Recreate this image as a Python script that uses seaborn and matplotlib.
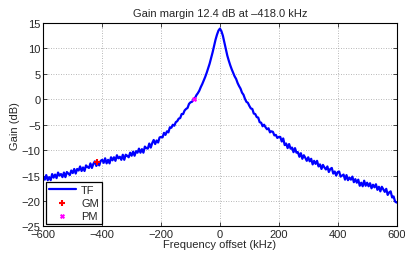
import numpy as np
import pandas as pd
import seaborn as sns
import matplotlib
matplotlib.use('Agg')
import matplotlib.pyplot as plt

# frequency axis in kHz, 5 kHz steps
freq_khz = np.arange(-600, 601, 5)

gain_left = [
    -15.2, -15.8, -14.9, -15.9, -15.3, -15.9, -14.7, -15.4, -14.8, -15.5,
    -14.4, -15.0, -14.7, -15.3, -14.4, -15.3, -14.3, -14.6, -14.9, -14.0,
    -14.5, -13.7, -14.6, -13.7, -14.0, -13.2, -14.1, -13.4, -14.1, -13.0,
    -13.3, -13.5, -12.6, -13.5, -12.7, -12.2, -13.1, -12.5, -13.0, -12.1,
    -11.9, -12.5, -11.6, -12.6, -11.9, -12.6, -11.4, -12.0, -11.4, -12.1,
    -11.0, -11.6, -11.3, -11.9, -10.9, -11.9, -10.9, -11.1, -11.4, -10.5,
    -11.1, -10.3, -11.1, -10.2, -10.5, -9.7, -10.5, -9.8, -10.5, -9.3,
    -9.6, -9.7, -8.7, -9.5, -8.6, -8.0, -8.8, -8.1, -8.5, -7.5,
    -7.4, -7.5, -6.6, -7.0, -6.3, -6.5, -5.5, -5.6, -5.0, -5.2,
    -4.5, -4.3, -3.8, -3.7, -2.9, -2.9, -2.2, -1.9, -1.7, -0.9,
    -0.6, -0.5, -0.1, 0.2, 0.8, 1.2, 1.7, 2.4, 3.0, 3.7,
    4.4, 5.2, 6.1, 7.0, 8.1, 9.2, 10.5, 11.7, 12.7, 13.5,
]
gain_peak = [13.9]
gain_right = [
    13.4, 12.5, 11.2, 9.8, 8.6, 7.6, 6.7, 5.9, 5.2, 4.5,
    4.0, 3.2, 2.6, 2.1, 1.3, 0.9, 0.1, -0.5, -0.7, -1.3,
    -1.8, -1.9, -2.8, -2.9, -3.5, -3.6, -4.5, -4.6, -5.3, -5.0,
    -5.5, -5.9, -5.7, -6.5, -6.3, -6.4, -7.1, -7.0, -7.6, -7.4,
    -7.4, -8.3, -7.7, -9.0, -8.7, -9.6, -8.8, -9.7, -9.5, -10.4,
    -9.6, -10.5, -10.4, -11.3, -10.6, -11.7, -11.0, -11.5, -12.1, -11.4,
    -12.2, -11.7, -12.8, -12.1, -12.7, -12.1, -13.2, -12.8, -13.7, -12.9,
    -13.4, -13.8, -13.2, -14.3, -13.7, -13.5, -14.6, -14.2, -15.0, -14.3,
    -14.2, -15.2, -15.0, -14.8, -15.8, -14.9, -15.9, -15.4, -15.8, -15.2,
    -16.3, -15.7, -16.4, -15.8, -17.0, -16.4, -17.1, -16.0, -17.0, -16.4,
    -17.1, -16.5, -17.5, -16.8, -17.3, -16.7, -17.8, -17.2, -18.1, -17.2,
    -17.7, -18.2, -17.6, -18.8, -18.3, -18.1, -19.3, -19.1, -20.1, -20.3,
]
gain_db = gain_left + gain_peak + gain_right

# margin points
gm_freq = [-418.0]
gm_gain = [-12.4]
pm_freq = [-88.0]
pm_gain = [0.0]

df = pd.DataFrame({'f': freq_khz, 'g': gain_db})

sns.set_style('white')
plt.rcParams['font.family'] = ['Liberation Sans', 'DejaVu Sans']

fig = plt.figure(figsize=(4.06, 2.55), dpi=100)
ax = fig.add_axes([0.1067, 0.108, 0.870, 0.798])

sns.lineplot(data=df, x='f', y='g', ax=ax, color='#0000ff', lw=1.6,
             sort=False, estimator=None, label='TF')
sns.scatterplot(x=gm_freq, y=gm_gain, ax=ax, marker='+', color='red',
                s=16, linewidth=1.5, label='GM', zorder=5)
sns.scatterplot(x=pm_freq, y=pm_gain, ax=ax, marker='x', color='magenta',
                s=7, linewidth=1.5, label='PM', zorder=5)

ax.set_xlim(-600, 600)
ax.set_ylim(-25, 15)
ax.set_xticks(np.arange(-600, 601, 200))
ax.set_yticks(np.arange(-25, 16, 5))
ax.grid(True, linestyle=(0, (1, 2)), color='#a0a0a0', linewidth=0.6)
ax.tick_params(direction='in', length=3, width=0.6, labelsize=8,
               top=True, right=True, bottom=True, left=True, pad=2)
for sp in ax.spines.values():
    sp.set_color('black')
    sp.set_linewidth(0.8)

ax.set_title('Gain margin 12.4 dB at \u2013418.0 kHz', fontsize=8, pad=5)
ax.set_xlabel('Frequency offset (kHz)', fontsize=8, labelpad=0)
ax.set_ylabel('Gain (dB)', fontsize=8, labelpad=1)

leg = ax.legend(loc='lower left', fontsize=8, frameon=True, fancybox=False,
                edgecolor='black', framealpha=1, borderaxespad=0.2,
                handlelength=2.4, labelspacing=0.25, borderpad=0.3,
                handletextpad=0.5)
leg.get_frame().set_linewidth(0.9)

fig.savefig('out.png', dpi=100)
